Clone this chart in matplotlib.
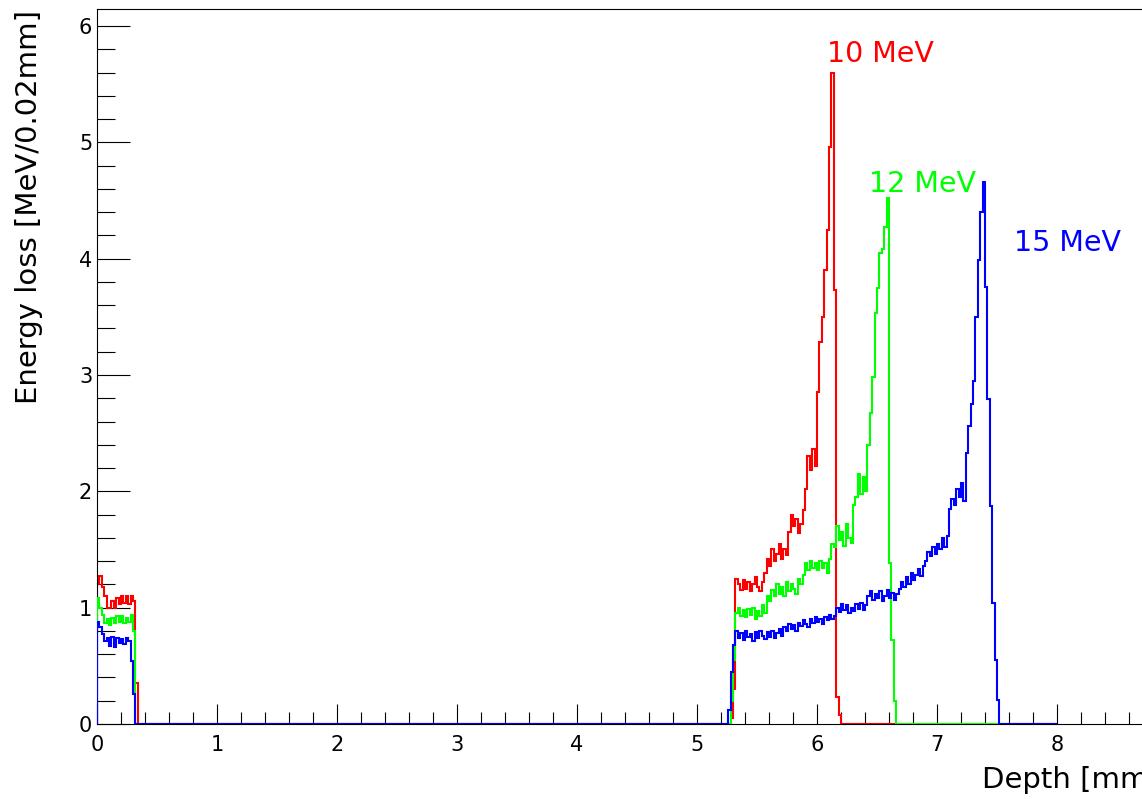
import matplotlib
matplotlib.use('Agg')
import matplotlib.pyplot as plt
from matplotlib.ticker import MultipleLocator
import numpy as np

# histogram binning (MeV per 0.02 mm bin), range 0 - 8 mm
bin_width = 0.02
n_bins = 400
peak_start = 5.26   # depth of the first bin of the second block

# first block: bins starting at 0.00 mm
red_entry = [1.2, 1.27, 1.18, 1.1, 1.0, 1.0, 1.06, 1.0, 1.08, 1.03, 1.1, 1.04,
             1.1, 1.03, 1.1, 1.06, 0.35]
green_entry = [1.08, 1.0, 0.94, 0.87, 0.9, 0.85, 0.91, 0.87, 0.93, 0.88, 0.93,
               0.87, 0.91, 0.88, 0.94, 0.8]
blue_entry = [0.88, 0.83, 0.77, 0.71, 0.74, 0.67, 0.75, 0.66, 0.74, 0.7, 0.73,
              0.69, 0.74, 0.71, 0.54, 0.26]

# second block: bins starting at 5.26 mm
red_peak = [0.0, 0.05, 0.3, 1.25, 1.2, 1.15, 1.24, 1.16, 1.22, 1.14,
            1.2, 1.26, 1.18, 1.14, 1.22, 1.3, 1.42, 1.36, 1.5, 1.4,
            1.46, 1.55, 1.42, 1.5, 1.45, 1.65, 1.8, 1.7, 1.76, 1.64,
            1.72, 1.84, 2.02, 2.3, 2.18, 2.36, 2.22, 2.85, 3.28, 3.5,
            3.9, 4.25, 4.96, 5.6, 3.73, 0.23, 0.08]
green_peak = [0.0, 0.2, 0.55, 0.95, 1.0, 0.93, 0.98, 0.92, 0.99, 0.94,
              1.0, 0.9, 0.97, 0.93, 1.02, 0.95, 1.1, 1.06, 1.15, 1.1,
              1.2, 1.12, 1.18, 1.1, 1.22, 1.14, 1.2, 1.16, 1.12, 1.25,
              1.2, 1.28, 1.38, 1.32, 1.4, 1.34, 1.38, 1.32, 1.4, 1.34,
              1.38, 1.3, 1.42, 1.55, 1.52, 1.7, 1.58, 1.65, 1.53, 1.72,
              1.6, 1.56, 1.88, 1.95, 2.15, 1.98, 2.12, 2.0, 2.4, 2.67,
              2.98, 3.53, 3.75, 4.05, 4.08, 4.27, 4.52, 1.38, 0.72, 0.2]
blue_peak = [0.12, 0.45, 0.68, 0.8, 0.74, 0.78, 0.72, 0.8, 0.75, 0.77,
             0.71, 0.79, 0.74, 0.8, 0.76, 0.73, 0.79, 0.75, 0.8, 0.74,
             0.78, 0.82, 0.76, 0.83, 0.8, 0.86, 0.82, 0.85, 0.8, 0.87,
             0.84, 0.89, 0.86, 0.83, 0.9, 0.87, 0.92, 0.88, 0.9, 0.86,
             0.92, 0.89, 0.94, 0.9, 0.93, 1.0, 0.96, 1.03, 0.98, 1.02,
             0.95, 1.0, 0.97, 1.03, 0.99, 1.04, 0.98, 1.02, 1.1, 1.14,
             1.07, 1.12, 1.08, 1.14, 1.06, 1.1, 1.15, 1.08, 1.13, 1.07,
             1.12, 1.16, 1.22, 1.18, 1.26, 1.2, 1.3, 1.24, 1.28, 1.33,
             1.27, 1.36, 1.4, 1.48, 1.44, 1.52, 1.46, 1.55, 1.5, 1.6,
             1.52, 1.62, 1.85, 1.93, 1.88, 2.02, 1.95, 2.07, 1.92, 2.33,
             2.56, 2.75, 2.95, 3.5, 3.99, 4.4, 4.66, 3.76, 2.79, 1.87,
             1.04, 0.55, 0.21]

labels = ['10 MeV', '12 MeV', '15 MeV']
colors = ['#ff0000', '#00ff00', '#0000ff']
label_pos = [(6.08, 5.69), (6.43, 4.57), (7.64, 4.07)]


def full_hist(entry, peak):
    vals = np.zeros(n_bins)
    vals[:len(entry)] = entry
    i0 = int(round(peak_start / bin_width))
    vals[i0:i0 + len(peak)] = peak
    return vals


edges = np.arange(n_bins + 1) * bin_width
series = [full_hist(red_entry, red_peak),
          full_hist(green_entry, green_peak),
          full_hist(blue_entry, blue_peak)]

fig = plt.figure(figsize=(11.42, 7.99), dpi=100)
ax = fig.add_axes([97 / 1142, 75 / 799, 1045 / 1142, 715 / 799])

# red sits under the frame, like in the original drawing
zorders = [2.4, 3, 3.1]
for vals, c, z in zip(series, colors, zorders):
    ax.stairs(vals, edges, color=c, lw=1.5, baseline=0, zorder=z)

for text, c, (x, y) in zip(labels, colors, label_pos):
    ax.text(x, y, text, color=c, fontsize=20.5, ha='left', va='baseline')

ax.set_xlim(0, 8.708)
ax.set_ylim(0, 6.146)

ax.xaxis.set_major_locator(MultipleLocator(1))
ax.xaxis.set_minor_locator(MultipleLocator(0.2))
ax.yaxis.set_major_locator(MultipleLocator(1))
ax.yaxis.set_minor_locator(MultipleLocator(0.2))

ax.tick_params(axis='x', which='major', direction='in', length=14.4, width=0.8,
               labelsize=15, pad=8, top=False)
ax.tick_params(axis='x', which='minor', direction='in', length=8.3, width=0.8, top=False)
ax.tick_params(axis='y', which='major', direction='in', length=23.8, width=0.8,
               labelsize=15, pad=3.5, right=False)
ax.tick_params(axis='y', which='minor', direction='in', length=13, width=0.8, right=False)

ax.spines['right'].set_visible(False)
for s in ['left', 'top', 'bottom']:
    ax.spines[s].set_linewidth(0.8)

fig.text(982 / 1142, 10.7 / 799, 'Depth [mm]', fontsize=21, ha='left', va='baseline')
fig.text(29 / 1142, 1 - 10 / 799, 'Energy loss [MeV/0.02mm]', fontsize=21,
         rotation=90, ha='center', va='top')

fig.savefig('out.png', dpi=100)
